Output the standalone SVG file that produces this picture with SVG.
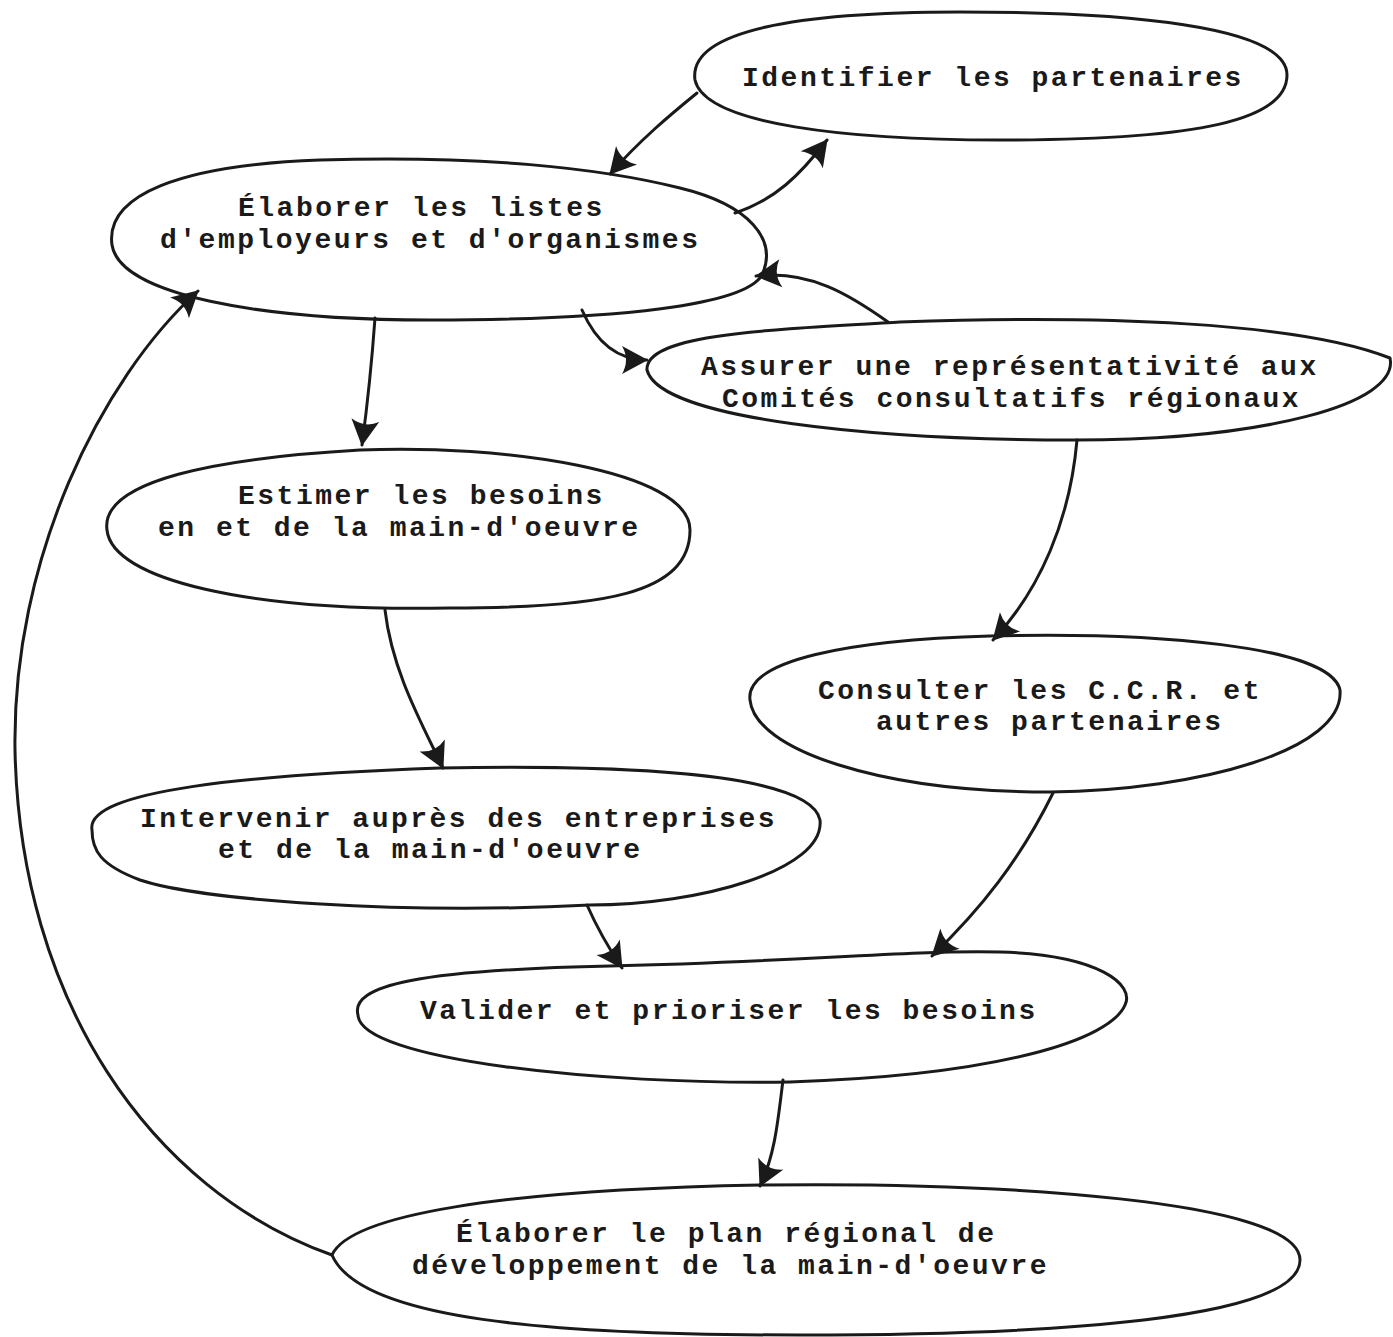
<svg xmlns="http://www.w3.org/2000/svg" width="1393" height="1337" viewBox="0 0 1393 1337">
  <style>
    .node path { fill: none; stroke: #1a1a1a; stroke-width: 3; stroke-linejoin: round; }
    .node text { font-family: "Liberation Mono", "DejaVu Sans Mono", monospace; font-weight: bold; font-size: 28px; letter-spacing: 2.5px; fill: #1a1a1a; }
    #connectors path { fill: none; stroke: #1a1a1a; stroke-width: 3; stroke-linecap: round; marker-end: url(#head); }
  </style>
  <defs>
    <!-- filled, slightly concave arrowhead used by every connector -->
    <marker id="head" viewBox="-28 -16 30 32" markerWidth="30" markerHeight="32" markerUnits="userSpaceOnUse" refX="0" refY="0" orient="auto">
      <path d="M1,0 L-25,-14 Q-17,0 -25,14 Z" fill="#1a1a1a"/>
    </marker>
  </defs>
  <rect width="1393" height="1337" fill="#ffffff"/>

  <g id="connectors">
    <!-- Identifier -> Élaborer listes -->
    <path d="M697,93 C670,115 640,140 610,174"/>
    <!-- Élaborer listes -> Identifier -->
    <path d="M735,213 C775,200 800,175 827,140"/>
    <!-- Assurer -> Élaborer listes -->
    <path d="M888,322 C850,295 810,270 756,276"/>
    <!-- Élaborer listes -> Assurer -->
    <path d="M582,310 C595,340 615,360 647,360"/>
    <!-- Élaborer listes -> Estimer -->
    <path d="M375,318 C372,360 368,400 362,445"/>
    <!-- Estimer -> Intervenir -->
    <path d="M385,610 C392,670 420,720 443,768"/>
    <!-- Assurer -> Consulter -->
    <path d="M1077,440 C1070,520 1040,590 993,640"/>
    <!-- Intervenir -> Valider -->
    <path d="M587,905 C598,930 610,950 622,968"/>
    <!-- Consulter -> Valider -->
    <path d="M1053,793 C1020,860 980,910 932,956"/>
    <!-- Valider -> Élaborer plan -->
    <path d="M783,1080 C778,1120 775,1155 760,1186"/>
    <!-- Élaborer plan -> Élaborer listes -->
    <path d="M332,1255 C150,1190 20,1000 15,750 C12,560 100,380 198,291"/>
  </g>

  <g id="identifier" class="node">
    <path d="M695,80 C688,30 800,12 960,12 C1120,12 1287,25 1287,75 C1287,120 1200,140 1000,140 C850,140 705,125 695,80 Z"/>
    <text x="742" y="86">Identifier les partenaires</text>
  </g>

  <g id="elaborer-listes" class="node">
    <path d="M112,245 C105,195 180,165 320,160 C480,155 600,168 680,188 C750,205 778,240 762,275 C745,305 620,320 430,320 C260,320 120,295 112,245 Z"/>
    <text x="238" y="216">Élaborer les listes</text>
    <text x="160" y="248">d'employeurs et d'organismes</text>
  </g>

  <g id="assurer" class="node">
    <path d="M647,370 C645,335 760,330 900,322 C1100,315 1300,322 1390,358 C1400,405 1260,440 1075,440 C880,440 660,420 647,370 Z"/>
    <text x="701" y="375">Assurer une représentativité aux</text>
    <text x="722" y="407">Comités consultatifs régionaux</text>
  </g>

  <g id="estimer" class="node">
    <path d="M107,530 C100,480 220,458 360,450 C500,444 690,470 690,530 C690,595 600,608 450,608 C250,612 112,580 107,530 Z"/>
    <text x="238" y="504">Estimer les besoins</text>
    <text x="158" y="536">en et de la main-d'oeuvre</text>
  </g>

  <g id="consulter" class="node">
    <path d="M750,700 C745,660 850,640 990,636 C1150,632 1330,645 1340,690 C1345,750 1200,790 1050,792 C880,792 755,750 750,700 Z"/>
    <text x="818" y="699">Consulter les C.C.R. et</text>
    <text x="876" y="730">autres partenaires</text>
  </g>

  <g id="intervenir" class="node">
    <path d="M92,830 C85,790 250,775 440,768 C600,765 810,770 820,820 C825,870 700,905 590,905 C400,915 200,900 140,880 C100,865 92,850 92,830 Z"/>
    <text x="140" y="827">Intervenir auprès des entreprises</text>
    <text x="218" y="858">et de la main-d'oeuvre</text>
  </g>

  <g id="valider" class="node">
    <path d="M358,1015 C350,985 420,970 610,966 C800,962 900,950 1000,952 C1100,955 1135,985 1125,1005 C1110,1040 1000,1075 790,1082 C600,1085 360,1060 358,1015 Z"/>
    <text x="420" y="1019">Valider et prioriser les besoins</text>
  </g>

  <g id="elaborer-plan" class="node">
    <path d="M332,1255 C350,1215 500,1190 760,1185 C1000,1182 1300,1200 1300,1260 C1300,1320 1050,1335 800,1335 C550,1335 360,1320 332,1255 Z"/>
    <text x="456" y="1242">Élaborer le plan régional de</text>
    <text x="412" y="1274">développement de la main-d'oeuvre</text>
  </g>
</svg>
